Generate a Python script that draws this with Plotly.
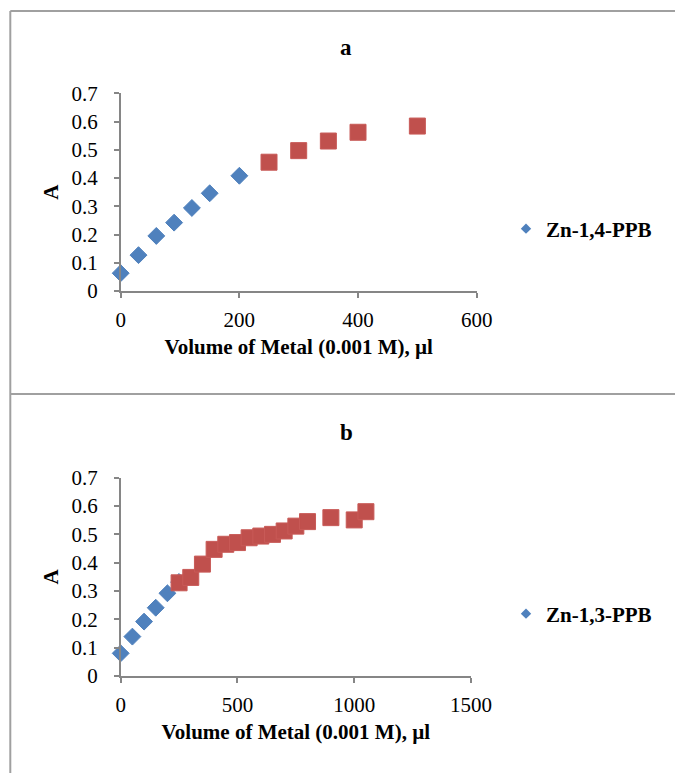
import plotly.graph_objects as go

# ---------------- data ----------------
a_blue_x = [0, 30, 60, 90, 120, 150, 200]
a_blue_y = [0.063, 0.127, 0.195, 0.242, 0.294, 0.346, 0.408]
a_red_x = [250, 300, 350, 400, 500]
a_red_y = [0.456, 0.497, 0.531, 0.562, 0.584]

b_blue_x = [0, 50, 100, 150, 200, 250]
b_blue_y = [0.080, 0.139, 0.192, 0.241, 0.292, 0.332]
b_red_x = [250, 300, 350, 400, 450, 500, 550, 600, 650, 700, 750, 800, 900, 1000, 1050]
b_red_y = [0.329, 0.348, 0.395, 0.447, 0.465, 0.471, 0.488, 0.494, 0.500, 0.512,
           0.529, 0.545, 0.559, 0.551, 0.580]

titles = ["a", "b"]
legend_names = ["Zn-1,4-PPB", "Zn-1,3-PPB"]
x_title = "Volume of Metal (0.001 M), µl"
y_title = "A"

# ---------------- style ----------------
W, H = 675, 773
BLUE = "#4F81BD"
RED = "#C0504D"
AX = "#868686"
FONT = "Liberation Serif, Times New Roman, serif"

def px(x):
    return x / W

def py(y):
    return 1 - y / H

fig = go.Figure()

def add_panel(idx, bx, by, rx, ry, name, xr, dtick, xdom_px, ydom_px, leg_y, title_y):
    xa = "x" if idx == 1 else "x2"
    ya = "y" if idx == 1 else "y2"
    leg = "legend" if idx == 1 else "legend2"
    fig.add_trace(go.Scatter(x=bx, y=by, mode="markers", xaxis=xa, yaxis=ya,
                             marker=dict(symbol="diamond", size=13, color=BLUE,
                                         line=dict(width=1, color=BLUE)),
                             cliponaxis=False, showlegend=False, name=name))
    fig.add_trace(go.Scatter(x=rx, y=ry, mode="markers", xaxis=xa, yaxis=ya,
                             marker=dict(symbol="square", size=16, color=RED,
                                         line=dict(width=1, color="#C85a57")),
                             cliponaxis=False, showlegend=False, name=name + " (2)"))
    # legend entry
    fig.add_trace(go.Scatter(x=[None], y=[None], mode="markers", xaxis=xa, yaxis=ya,
                             marker=dict(symbol="diamond", size=8, color=BLUE),
                             showlegend=True, legend=leg, name=name))
    axis_common = dict(showgrid=False, zeroline=False, showline=True, linecolor=AX,
                       linewidth=1.5, ticks="outside", ticklen=5, tickcolor=AX,
                       tickwidth=1.5, automargin=False,
                       tickfont=dict(family=FONT, size=21, color="black"))
    bold = dict(family=FONT, size=21, color="black", weight="bold")
    xkey = "xaxis" if idx == 1 else "xaxis2"
    ykey = "yaxis" if idx == 1 else "yaxis2"
    fig.update_layout(**{
        xkey: dict(axis_common, range=list(xr), dtick=dtick, tick0=0,
                   domain=[px(xdom_px[0]), px(xdom_px[1])], anchor=ya,
                   ticklabelstandoff=4,
                   title=dict(text=x_title, standoff=8, font=bold)),
        ykey: dict(axis_common, range=[0, 0.7], dtick=0.1, tick0=0,
                   domain=[py(ydom_px[1]), py(ydom_px[0])], anchor=xa,
                   ticklabelstandoff=12,
                   title=dict(text=y_title, standoff=7, font=bold)),
        leg: dict(x=px(506), y=py(leg_y), xanchor="left", yanchor="middle",
                  bgcolor="rgba(0,0,0,0)", font=bold),
    })
    fig.add_annotation(text=titles[idx - 1], xref="paper", yref="paper",
                       x=px(346), y=py(title_y), xanchor="center", yanchor="middle",
                       showarrow=False,
                       font=dict(family=FONT, size=23, color="black", weight="bold"))

add_panel(1, a_blue_x, a_blue_y, a_red_x, a_red_y, legend_names[0], (0, 600), 200,
          (120.7, 476.7), (93.3, 291), 229, 47)
add_panel(2, b_blue_x, b_blue_y, b_red_x, b_red_y, legend_names[1], (0, 1500), 500,
          (120.7, 471), (477.7, 676), 614, 432)

# panel frame lines
frame = dict(color="#a0a0a0", width=2)
fig.add_shape(type="line", xref="paper", yref="paper", x0=px(10.3), x1=px(10.3),
              y0=py(11), y1=0, line=frame)
fig.add_shape(type="line", xref="paper", yref="paper", x0=px(10.3), x1=1,
              y0=py(11), y1=py(11), line=frame)
fig.add_shape(type="line", xref="paper", yref="paper", x0=px(10.3), x1=1,
              y0=py(394), y1=py(394), line=frame)

fig.update_layout(width=W, height=H,
                  margin=dict(l=0, r=0, t=0, b=0, pad=0, autoexpand=False),
                  paper_bgcolor="white", plot_bgcolor="white",
                  font=dict(family=FONT, color="black"))

fig.write_html("out.html", config={"displayModeBar": False},
               post_script="document.body.style.margin='0';"
                           "document.body.style.overflow='hidden';")
